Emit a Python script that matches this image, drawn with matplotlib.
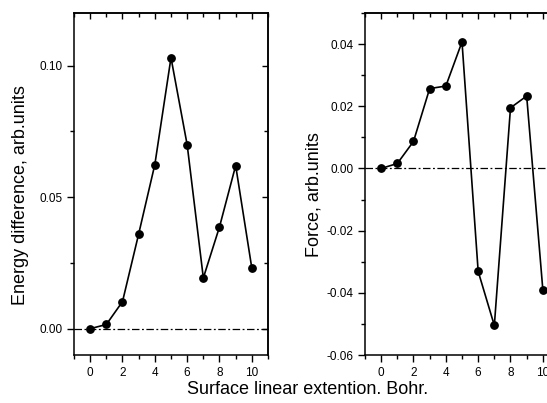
import matplotlib
matplotlib.use("Agg")
import matplotlib.pyplot as plt
from matplotlib.ticker import MultipleLocator, FormatStrFormatter, NullFormatter

plt.rcParams['font.family'] = ['Liberation Sans', 'DejaVu Sans']

x = [0, 1, 2, 3, 4, 5, 6, 7, 8, 9, 10]
energy = [0.0, 0.0016, 0.0103, 0.036, 0.0624, 0.103, 0.0699, 0.0193, 0.0387, 0.062, 0.023]
force = [0.0, 0.0016, 0.0087, 0.0257, 0.0265, 0.0407, -0.0331, -0.0505, 0.0195, 0.0233, -0.039]

W, H = 547, 403
fig = plt.figure(figsize=(W / 100, H / 100), dpi=100)

def ax_at(x0, y0, x1, y1):
    return fig.add_axes([x0 / W, 1 - y1 / H, (x1 - x0) / W, (y1 - y0) / H])

ax1 = ax_at(74, 13, 268, 355)
ax2 = ax_at(365, 13, 559, 355)

def style(ax, ylim, major, minor):
    ax.set_xlim(-1, 11)
    ax.set_ylim(*ylim)
    ax.xaxis.set_major_locator(MultipleLocator(2))
    ax.xaxis.set_minor_locator(MultipleLocator(1))
    ax.yaxis.set_major_locator(MultipleLocator(major))
    ax.yaxis.set_minor_locator(MultipleLocator(minor))
    ax.yaxis.set_major_formatter(FormatStrFormatter('%.2f'))
    ax.tick_params(axis='both', which='both', labelsize=8.5, width=1, color='black',
                   direction='out', top=False, right=False)
    ax.tick_params(which='major', length=5)
    ax.tick_params(which='minor', length=3)
    for s in ax.spines.values():
        s.set_linewidth(1.1)
    ax.axhline(0, color='black', lw=0.9, ls=(0, (6, 2, 1.5, 2)), zorder=1)
    # inward ticks on top and right
    top = ax.secondary_xaxis('top')
    top.xaxis.set_major_locator(MultipleLocator(2))
    top.xaxis.set_minor_locator(MultipleLocator(1))
    top.xaxis.set_major_formatter(NullFormatter())
    top.tick_params(which='both', direction='in', width=1)
    top.tick_params(which='major', length=4)
    top.tick_params(which='minor', length=3)
    top.spines['top'].set_linewidth(1.1)
    right = ax.secondary_yaxis('right')
    right.yaxis.set_major_locator(MultipleLocator(major))
    right.yaxis.set_minor_locator(MultipleLocator(minor))
    right.yaxis.set_major_formatter(NullFormatter())
    right.tick_params(which='both', direction='in', width=1)
    right.tick_params(which='major', length=4)
    right.tick_params(which='minor', length=3)
    right.spines['right'].set_linewidth(1.1)

style(ax1, (-0.01, 0.12), 0.05, 0.025)
style(ax2, (-0.06, 0.05), 0.02, 0.01)

ax1.plot(x, energy, color='black', lw=1.2, marker='o', ms=5.3, zorder=3)
ax2.plot(x, force, color='black', lw=1.2, marker='o', ms=5.3, zorder=3, clip_on=False)

fig.text(21 / W, 1 - 195 / H, 'Energy difference, arb.units', rotation=90,
         ha='center', va='center', fontsize=13)
fig.text(314 / W, 1 - 195 / H, 'Force, arb.units', rotation=90,
         ha='center', va='center', fontsize=13)
fig.text(308 / W, 1 - 389 / H, 'Surface linear extention. Bohr.', ha='center', va='center', fontsize=13)

fig.savefig('out.png', dpi=100)
